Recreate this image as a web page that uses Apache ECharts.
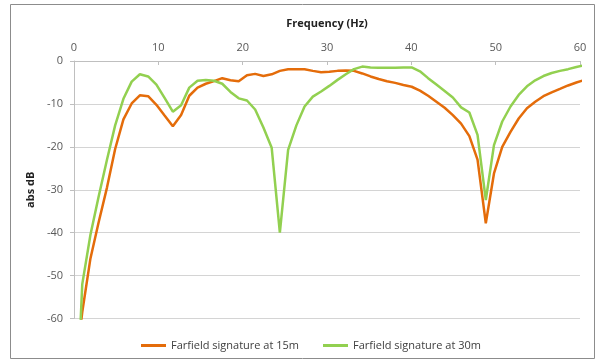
<!DOCTYPE html>
<html>
<head>
<meta charset="utf-8">
<script src="https://cdn.jsdelivr.net/npm/echarts@6/dist/echarts.min.js"></script>
<style>
html,body{margin:0;padding:0;background:#fff;}
#chart{width:596px;height:362px;}
</style>
</head>
<body>
<div id="chart"></div>
<script>
// Frequency bins (Hz)
var freqs = [0, 0.98, 1.95, 2.93, 3.91, 4.88, 5.86, 6.84, 7.81, 8.79, 9.77,
  10.74, 11.72, 12.70, 13.67, 14.65, 15.63, 16.60, 17.58, 18.55, 19.53,
  20.51, 21.48, 22.46, 23.44, 24.41, 25.39, 26.37, 27.34, 28.32, 29.30,
  30.27, 31.25, 32.23, 33.20, 34.18, 35.16, 36.13, 37.11, 38.09, 39.06,
  40.04, 41.02, 41.99, 42.97, 43.95, 44.92, 45.90, 46.88, 47.85, 48.83,
  49.80, 50.78, 51.76, 52.73, 53.71, 54.69, 55.66, 56.64, 57.62, 58.59,
  59.57, 60.55];

var sig15m = [-75, -58.5, -46, -37.5, -29.5, -20.5, -13.6, -9.9, -8.0, -8.2, -10.2,
  -12.7, -15.2, -12.6, -8.1, -6.2, -5.3, -4.7, -4.0, -4.5, -4.7,
  -3.3, -3.0, -3.5, -3.1, -2.3, -1.9, -1.9, -1.9, -2.3, -2.6,
  -2.5, -2.3, -2.2, -2.3, -2.9, -3.6, -4.2, -4.7, -5.1, -5.6,
  -6.0, -6.9, -8.1, -9.5, -10.9, -12.6, -14.6, -17.5, -23.0, -37.8,
  -26.2, -20.0, -16.5, -13.4, -11.0, -9.5, -8.2, -7.3, -6.5, -5.7,
  -5.0, -4.4];

var sig30m = [-95, -52, -40.5, -31.5, -23, -15, -8.8, -4.8, -3.1, -3.6, -5.5,
  -8.6, -11.8, -10.3, -6.2, -4.6, -4.4, -4.6, -5.3, -7.2, -8.7,
  -9.2, -11.3, -15.5, -20.2, -40, -20.7, -15, -10.6, -8.3, -7.1,
  -5.8, -4.4, -3.1, -1.9, -1.3, -1.5, -1.6, -1.6, -1.6, -1.5,
  -1.5, -2.4, -4.0, -5.5, -7.0, -8.5, -10.8, -12.0, -17.2, -32.4,
  -19.6, -14.1, -10.6, -7.9, -5.9, -4.5, -3.5, -2.8, -2.3, -1.9,
  -1.4, -1.0];

var seriesNames = ['Farfield signature at 15m', 'Farfield signature at 30m'];
var xTitle = 'Frequency (Hz)';
var yTitle = 'abs dB';

function pairs(xs, ys) {
  var out = [];
  for (var i = 0; i < xs.length; i++) out.push([xs[i], ys[i]]);
  return out;
}

var chart = echarts.init(document.getElementById('chart'), null, {renderer: 'canvas'});
var font = 'Open Sans, Roboto, sans-serif';
chart.setOption({
  animation: false,
  backgroundColor: '#ffffff',
  textStyle: {fontFamily: font},
  graphic: [{
    type: 'rect',
    shape: {x: 10.5, y: 4.5, width: 584, height: 354},
    style: {fill: 'none', stroke: '#8c8c8c', lineWidth: 1},
    silent: true
  }],
  grid: {left: 74, right: 16, top: 61, bottom: 43.5},
  legend: {
    bottom: 6,
    left: 136,
    itemWidth: 25,
    itemHeight: 3,
    itemGap: 24,
    icon: 'rect',
    textStyle: {fontSize: 11, color: '#404040', fontFamily: font},
    data: seriesNames
  },
  xAxis: {
    type: 'value',
    position: 'top',
    min: 0, max: 60, interval: 10,
    name: xTitle,
    nameLocation: 'middle',
    nameGap: 32,
    nameTextStyle: {fontWeight: 'bold', fontSize: 11, color: '#222'},
    axisLine: {show: true, lineStyle: {color: '#bfbfbf', width: 1}},
    axisTick: {show: true, inside: true, length: 4, lineStyle: {color: '#bfbfbf'}},
    axisLabel: {fontSize: 11, color: '#595959', margin: 8},
    splitLine: {show: false}
  },
  yAxis: {
    type: 'value',
    min: -60, max: 0, interval: 10,
    name: yTitle,
    nameLocation: 'middle',
    nameGap: 33,
    nameRotate: 90,
    nameTextStyle: {fontWeight: 'bold', fontSize: 11, color: '#222'},
    axisLine: {show: true, lineStyle: {color: '#bfbfbf', width: 1}},
    axisTick: {show: true, length: 4, lineStyle: {color: '#bfbfbf'}},
    axisLabel: {fontSize: 11, color: '#595959', margin: 11},
    splitLine: {show: true, lineStyle: {color: '#d4d4d4', width: 1}}
  },
  series: [
    {
      name: seriesNames[0],
      type: 'line',
      data: pairs(freqs, sig15m),
      showSymbol: false,
      clip: true,
      lineStyle: {color: '#E46C0A', width: 2.5},
      itemStyle: {color: '#E46C0A'},
      z: 2
    },
    {
      name: seriesNames[1],
      type: 'line',
      data: pairs(freqs, sig30m),
      showSymbol: false,
      clip: true,
      lineStyle: {color: '#92D050', width: 2.5},
      itemStyle: {color: '#92D050'},
      z: 3
    }
  ]
});
</script>
</body>
</html>
